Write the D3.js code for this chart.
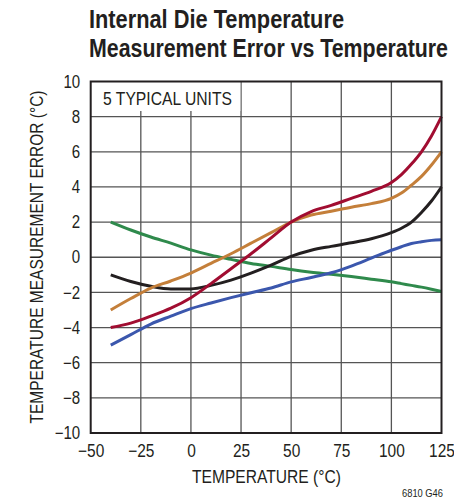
<!DOCTYPE html>
<html>
<head>
<meta charset="utf-8">
<script src="https://cdn.jsdelivr.net/npm/d3@7"></script>
<style>
  html, body { margin: 0; padding: 0; background: #fff; }
  svg { display: block; }
  text { font-family: "Liberation Sans", Arial, sans-serif; fill: #231f20; }
</style>
</head>
<body>
<svg id="chart" width="454" height="500"></svg>
<script>
const titleLines = ["Internal Die Temperature", "Measurement Error vs Temperature"];
const xTicks = [-50, -25, 0, 25, 50, 75, 100, 125];
const yTicks = [-10, -8, -6, -4, -2, 0, 2, 4, 6, 8, 10];
const temps = [-40, -30, -20, -10, 0, 10, 20, 30, 40, 50, 60, 70, 80, 90, 100, 105, 110, 115, 120, 125];
const unitGreen  = [2, 1.55, 1.15, 0.8, 0.42, 0.12, -0.12, -0.35, -0.52, -0.7, -0.85, -0.97, -1.1, -1.25, -1.4, -1.5, -1.6, -1.7, -1.82, -1.95];
const unitBlack  = [-1, -1.38, -1.65, -1.8, -1.8, -1.6, -1.3, -0.9, -0.45, 0.05, 0.4, 0.62, 0.82, 1.05, 1.4, 1.65, 2.0, 2.55, 3.2, 4];
const unitOrange = [-3, -2.35, -1.75, -1.35, -0.9, -0.35, 0.2, 0.8, 1.4, 2.0, 2.4, 2.62, 2.85, 3.05, 3.35, 3.65, 4.1, 4.6, 5.25, 6];
const unitRed    = [-4, -3.75, -3.35, -2.9, -2.3, -1.5, -0.65, 0.2, 1.1, 2.0, 2.6, 2.95, 3.35, 3.75, 4.25, 4.7, 5.3, 6.0, 6.9, 8];
const unitBlue   = [-5, -4.4, -3.8, -3.35, -2.92, -2.6, -2.3, -2.02, -1.75, -1.4, -1.15, -0.88, -0.5, -0.05, 0.4, 0.6, 0.78, 0.88, 0.96, 1.0];
const seriesNames = ["green", "black", "orange", "red", "blue"];
const seriesColors = ["#2f8a4c", "#231f20", "#c47f3a", "#a10d31", "#3b57ad"];
const seriesValues = [unitGreen, unitBlack, unitOrange, unitRed, unitBlue];
const legendText = "5 TYPICAL UNITS";
const xTitle = "TEMPERATURE (°C)";
const yTitle = "TEMPERATURE MEASUREMENT ERROR (°C)";
const figId = "6810 G46";

const svg = d3.select("#chart");
const L = 90.7, R = 441.5, T = 81.5, B = 433;
const x = d3.scaleLinear().domain([-50, 125]).range([L, R]);
const y = d3.scaleLinear().domain([-10, 10]).range([B, T]);

// condense text horizontally (the original uses a condensed face)
function condense(sel, factor) {
  sel.each(function () {
    const w = this.getComputedTextLength();
    d3.select(this).attr("textLength", w * factor).attr("lengthAdjust", "spacingAndGlyphs");
  });
}

// Title
const titleSel = svg.append("g").selectAll("text").data(titleLines).join("text")
  .attr("x", 89).attr("y", (d, i) => 28 + i * 29)
  .attr("font-size", 25.5).attr("font-weight", "bold")
  .text(d => d);
const titleWidths = [255, 359];
titleSel.attr("textLength", (d, i) => titleWidths[i]).attr("lengthAdjust", "spacingAndGlyphs");

// Grid
const grid = svg.append("g").attr("stroke", "#555").attr("stroke-width", 1.3);
grid.selectAll("line.v").data(xTicks.slice(1, -1)).join("line")
  .attr("x1", d => x(d)).attr("x2", d => x(d)).attr("y1", T).attr("y2", B);
grid.selectAll("line.h").data(yTicks.slice(1, -1)).join("line")
  .attr("x1", L).attr("x2", R).attr("y1", d => y(d)).attr("y2", d => y(d));

// Legend box (covers grid)
svg.append("rect").attr("x", L).attr("y", T).attr("width", x(25) - L - 0.7).attr("height", 29.5).attr("fill", "#fff");
svg.append("text").attr("x", 103).attr("y", 105).attr("font-size", 18.5).text(legendText)
  .attr("textLength", 129).attr("lengthAdjust", "spacingAndGlyphs");

// Curves
const line = d3.line().x(d => x(d[0])).y(d => y(d[1])).curve(d3.curveMonotoneX);
svg.append("g").selectAll("path").data(seriesValues).join("path")
  .attr("d", vals => line(temps.map((t, i) => [t, vals[i]])))
  .attr("fill", "none")
  .attr("stroke", (d, i) => seriesColors[i])
  .attr("stroke-width", 3)
  .attr("stroke-linecap", "butt");

// Frame
svg.append("rect").attr("x", L).attr("y", T).attr("width", R - L).attr("height", B - T)
  .attr("fill", "none").attr("stroke", "#231f20").attr("stroke-width", 2);

// Axes
const fmt = d => d < 0 ? "\u2212" + Math.abs(d) : d;
const xAxis = svg.append("g").attr("transform", `translate(0,${B})`)
  .call(d3.axisBottom(x).tickValues(xTicks).tickSize(0).tickPadding(11).tickFormat(fmt));
xAxis.select(".domain").remove();
xAxis.selectAll("text").attr("font-size", 18).attr("font-family", null).style("fill", "#231f20");
condense(xAxis.selectAll("text"), 0.86);

const yAxis = svg.append("g").attr("transform", `translate(${L - 0.5},0)`)
  .call(d3.axisLeft(y).tickValues(yTicks).tickSize(0).tickPadding(10).tickFormat(fmt));
yAxis.select(".domain").remove();
yAxis.selectAll("text").attr("font-size", 17.5).attr("font-family", null).style("fill", "#231f20");
condense(yAxis.selectAll("text"), 0.86);

svg.append("text").attr("x", 266.5).attr("y", 483).attr("text-anchor", "middle")
  .attr("font-size", 18).text(xTitle)
  .attr("textLength", 149).attr("lengthAdjust", "spacingAndGlyphs");
svg.append("text").attr("transform", `translate(43,${257}) rotate(-90)`).attr("text-anchor", "middle")
  .attr("font-size", 17.5).text(yTitle)
  .attr("textLength", 333).attr("lengthAdjust", "spacingAndGlyphs");
svg.append("text").attr("x", 443).attr("y", 497).attr("text-anchor", "end")
  .attr("font-size", 11).text(figId)
  .attr("textLength", 41).attr("lengthAdjust", "spacingAndGlyphs");
</script>
</body>
</html>
